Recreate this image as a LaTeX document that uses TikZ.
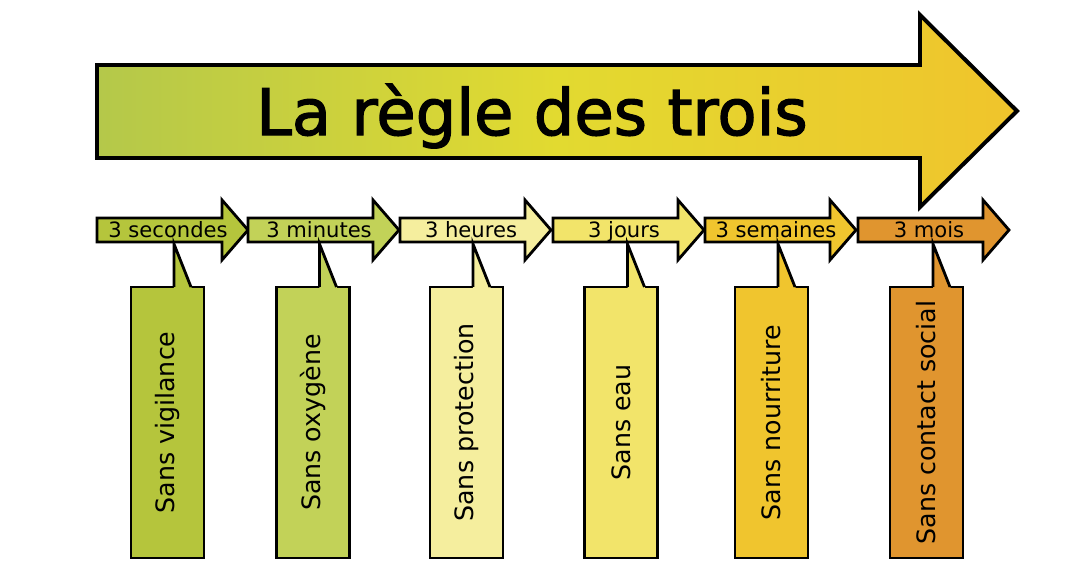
\documentclass[tikz,border=0pt]{standalone}
\usepackage{fontspec}
\setmainfont{DejaVu Sans}
\newfontfamily\titlefont[FakeBold=2]{DejaVu Sans}
\usetikzlibrary{calc}

\definecolor{bigleft}{HTML}{B4C84A}
\definecolor{bigmid}{HTML}{E2DA30}
\definecolor{bigright}{HTML}{F0C42C}
\definecolor{cA}{HTML}{B5C53C}
\definecolor{cB}{HTML}{C2D258}
\definecolor{cC}{HTML}{F5EE9E}
\definecolor{cD}{HTML}{F2E46A}
\definecolor{cE}{HTML}{F0C52E}
\definecolor{cF}{HTML}{E0952F}

\begin{document}
\begin{tikzpicture}[
    x=0.025cm, y=-0.025cm,
    bigarrow/.style={draw=black, line width=2.8pt, left color=bigleft, right color=bigright, middle color=bigmid},
    timearrow/.style={draw=black, line width=2pt},
    duration/.style={font=\fontsize{15}{17}\selectfont, inner sep=0pt, anchor=base},
    callout/.style={rectangle, draw=black, line width=2pt, outer sep=0pt, inner sep=0pt, minimum width=1.825cm, minimum height=6.775cm, font=\fontsize{18}{20}\selectfont}
]
\useasboundingbox[fill=white] (0,0) rectangle (1075,581);
% big arrow with the title
\draw[bigarrow] (97,65) -- (920,65) -- (920,15) -- (1017,111) -- (920,207) -- (920,158) -- (97,158) -- cycle;
\node[font=\titlefont\fontsize{45.5}{50}\selectfont, inner sep=0pt, anchor=base] (title) at (532,135) {La règle des trois};
% time line and callouts
\foreach \i/\x/\bx/\col/\when/\what in {1/97/167.5/cA/3 secondes/Sans vigilance, 2/248/313/cB/3 minutes/Sans oxygène, 3/400/466.5/cC/3 heures/Sans protection, 4/553/621/cD/3 jours/Sans eau, 5/705/771.5/cE/3 semaines/Sans nourriture, 6/858/926.5/cF/3 mois/Sans contact social} {
    \draw[timearrow, fill=\col] (\x,218) -- ++(125,0) -- ++(0,-18) -- ++(26,30) -- ++(-26,30) -- ++(0,-18) -- ++(-125,0) -- cycle;
    \node[duration] (t\i) at (\x+71,237) {\when};
    \node[callout, fill=\col] (b\i) at (\bx,422.5) {\rotatebox{90}{\what}};
    \fill[\col] ($(b\i.north west)+(43,2)$) -- ($(b\i.north west)+(43,-43)$) -- ($(b\i.north west)+(61,2)$) -- cycle;
    \draw[timearrow] ($(b\i.north west)+(43,0)$) -- ($(b\i.north west)+(43,-43)$) -- ($(b\i.north west)+(60,0)$);
}
\end{tikzpicture}
\end{document}
